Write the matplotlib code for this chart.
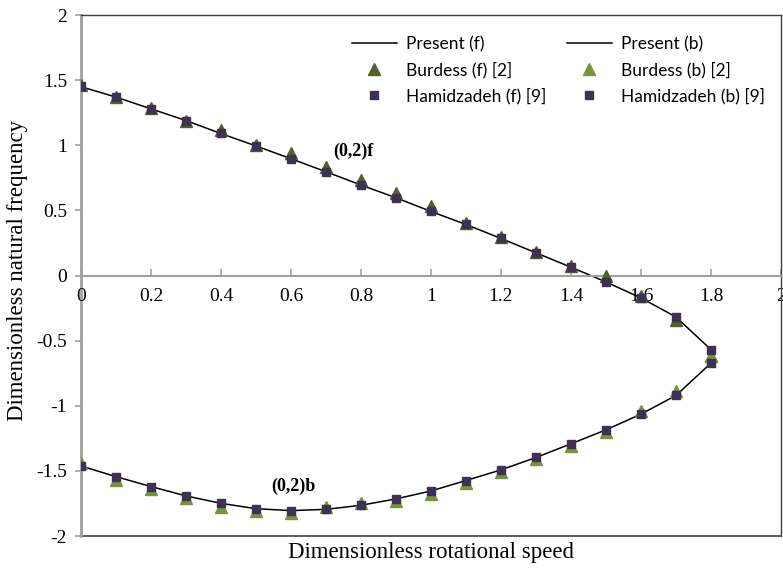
import matplotlib
matplotlib.use("Agg")
import matplotlib.pyplot as plt
from matplotlib.lines import Line2D

# ---- data ----
x_f = [0.0, 0.1, 0.2, 0.3, 0.4, 0.5, 0.6, 0.7, 0.8, 0.9, 1.0, 1.1, 1.2, 1.3, 1.4, 1.5, 1.6, 1.7, 1.8]
present_f = [1.45, 1.37, 1.28, 1.19, 1.09, 0.995, 0.897, 0.797, 0.695, 0.597, 0.492, 0.392, 0.285,
             0.174, 0.064, -0.049, -0.172, -0.318, -0.569]
burdess_f = [1.46, 1.37, 1.29, 1.19, 1.12, 1.005, 0.94, 0.836, 0.733, 0.636, 0.533, 0.405, 0.297,
             0.18, 0.072, -0.005, -0.16, -0.344, -0.615]
hamid_f = [1.455, 1.372, 1.282, 1.187, 1.092, 0.995, 0.897, 0.797, 0.695, 0.597, 0.492, 0.392, 0.285,
           0.174, 0.064, -0.049, -0.172, -0.318, -0.569]

x_b = [0.0, 0.1, 0.2, 0.3, 0.4, 0.5, 0.6, 0.7, 0.8, 0.9, 1.0, 1.1, 1.2, 1.3, 1.4, 1.5, 1.6, 1.7, 1.8]
present_b = [-1.462, -1.544, -1.62, -1.692, -1.749, -1.79, -1.805, -1.795, -1.764, -1.715, -1.654,
             -1.574, -1.492, -1.397, -1.292, -1.185, -1.064, -0.921, -0.672]
burdess_b = [-1.436, -1.57, -1.64, -1.71, -1.775, -1.805, -1.826, -1.78, -1.75, -1.728, -1.677,
             -1.59, -1.505, -1.41, -1.31, -1.2, -1.04, -0.885, -0.615]
hamid_b = [-1.462, -1.544, -1.62, -1.692, -1.749, -1.79, -1.805, -1.795, -1.764, -1.715, -1.654,
           -1.574, -1.492, -1.397, -1.292, -1.185, -1.064, -0.921, -0.672]

x_ticks = [0, 0.2, 0.4, 0.6, 0.8, 1, 1.2, 1.4, 1.6, 1.8, 2]
x_tick_labels = ["0", "0.2", "0.4", "0.6", "0.8", "1", "1.2", "1.4", "1.6", "1.8", "2"]
y_ticks = [-2, -1.5, -1, -0.5, 0, 0.5, 1, 1.5, 2]
y_tick_labels = ["-2", "-1.5", "-1", "-0.5", "0", "0.5", "1", "1.5", "2"]

serif = "Liberation Serif"
sans = "Lato"

fig = plt.figure(figsize=(7.83, 5.70), dpi=100)
ax = fig.add_axes([0.1034, 0.0596, 0.894, 0.914])

dark_green = "#4F6228"
light_green = "#77933C"
purple = "#3F3151"

ax.plot(x_f, present_f, color="black", lw=1.1, label="Present (f)", zorder=2)
ax.plot(x_f, burdess_f, linestyle="none", marker="^", ms=8, color=dark_green,
        label="Burdess (f) [2]", zorder=3)
ax.plot(x_f, hamid_f, linestyle="none", marker="s", ms=6, color=purple,
        label="Hamidzadeh (f) [9]", zorder=4)
ax.plot(x_b, present_b, color="black", lw=1.1, label="Present (b)", zorder=2)
ax.plot(x_b, burdess_b, linestyle="none", marker="^", ms=8, color=light_green,
        label="Burdess (b) [2]", zorder=3)
ax.plot(x_b, hamid_b, linestyle="none", marker="s", ms=6, color=purple,
        label="Hamidzadeh (b) [9]", zorder=4)

ax.set_xlim(0, 2)
ax.set_ylim(-2, 2)

# spines
ax.spines["bottom"].set_position(("data", 0))
ax.spines["bottom"].set_color("#A0A0A0")
ax.spines["bottom"].set_linewidth(1.5)
ax.spines["left"].set_color("#A0A0A0")
ax.spines["left"].set_linewidth(2)
ax.spines["left"].set_zorder(1)
for s in ["top", "right"]:
    ax.spines[s].set_color("#404040")
    ax.spines[s].set_linewidth(1.0)
ax.add_line(Line2D([0, 1], [0, 0], transform=ax.transAxes, color="#404040", lw=1.2,
                   clip_on=False, zorder=1))

ax.set_xticks(x_ticks)
ax.set_xticklabels(x_tick_labels, fontfamily=serif, fontsize=14)
ax.set_yticks(y_ticks)
ax.set_yticklabels(y_tick_labels, fontfamily=serif, fontsize=14)
ax.tick_params(axis="x", direction="in", length=5, width=1.2, color="#A0A0A0", pad=9)
ax.tick_params(axis="y", direction="out", length=4, width=1.2, color="#A0A0A0", pad=6)

ax.set_xlabel("Dimensionless rotational speed", fontfamily=serif, fontsize=16.5)
ax.xaxis.set_label_coords(0.5, -0.012)
ax.set_ylabel("Dimensionless natural frequency", fontfamily=serif, fontsize=16.5)
ax.yaxis.set_label_coords(-0.075, 0.51)

ax.text(0.721, 0.954, "(0,2)f", fontfamily=serif, fontweight="bold", fontsize=13,
        ha="left", va="center")
ax.text(0.544, -1.62, "(0,2)b", fontfamily=serif, fontweight="bold", fontsize=13,
        ha="left", va="center")

handles, labels = ax.get_legend_handles_labels()
leg = ax.legend(handles, labels, ncol=2, loc="upper right", bbox_to_anchor=(0.999, 0.99),
                frameon=False, prop={"family": sans, "size": 12.5}, handlelength=2.6,
                handletextpad=0.5, columnspacing=1.2, labelspacing=0.55)

fig.savefig("out.png", dpi=100)
